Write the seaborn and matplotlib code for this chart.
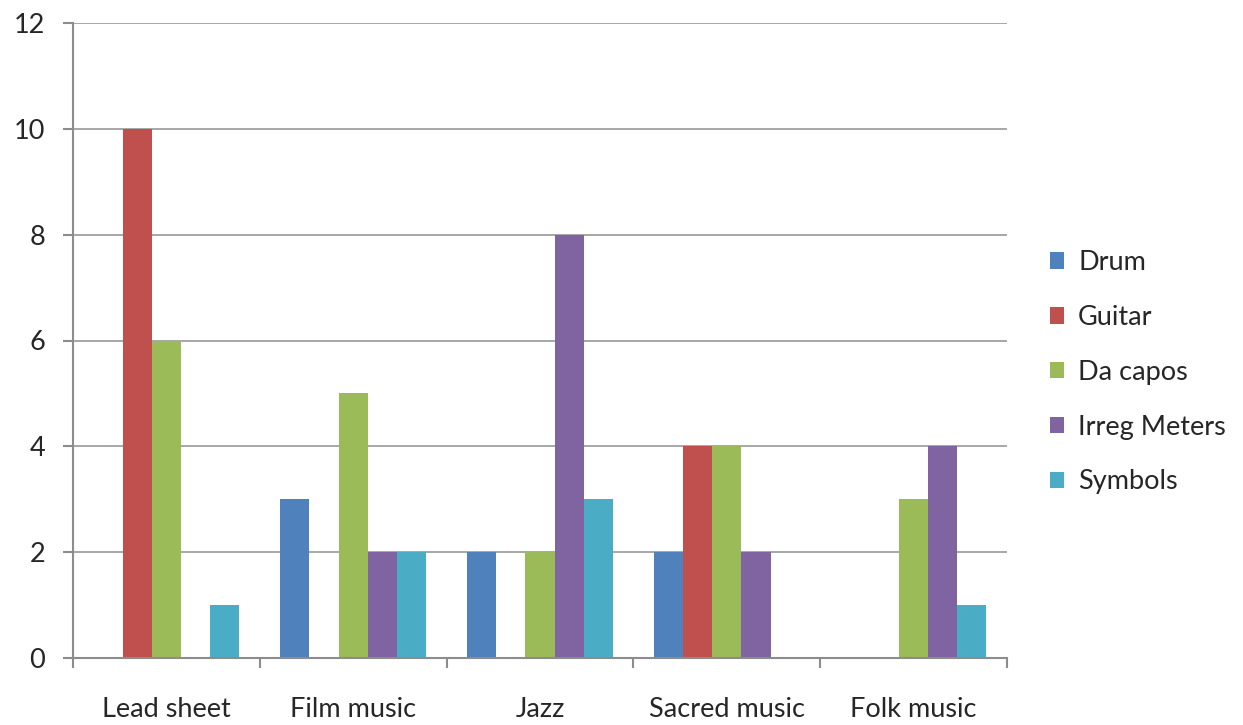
import pandas as pd
import matplotlib
matplotlib.use('Agg')
import matplotlib.pyplot as plt
import seaborn as sns

genres = ['Lead sheet', 'Film music', 'Jazz', 'Sacred music', 'Folk music']
series = ['Drum', 'Guitar', 'Da capos', 'Irreg Meters', 'Symbols']
drum = [0, 3, 2, 2, 0]
guitar = [10, 0, 0, 4, 0]
da_capos = [6, 5, 2, 4, 3]
irreg = [0, 2, 8, 2, 4]
symbols = [1, 2, 3, 0, 1]
colors = ['#4F81BD', '#C0504D', '#9BBB59', '#8064A2', '#4BACC6']

rows = []
for name, vals in zip(series, [drum, guitar, da_capos, irreg, symbols]):
    for g, v in zip(genres, vals):
        rows.append({'Genre': g, 'Series': name, 'Count': v})
df = pd.DataFrame(rows)

sns.set_style('white')
plt.rcParams['font.family'] = ['Lato', 'DejaVu Sans']

fig = plt.figure(figsize=(12.43, 7.25), dpi=100)
ax = fig.add_axes([73 / 1243, 1 - 658 / 725, 934 / 1243, 635 / 725])

sns.barplot(data=df, x='Genre', y='Count', hue='Series', palette=colors,
            width=0.78, linewidth=0, saturation=1, ax=ax, legend=True)

ax.set_ylim(0, 12)
ax.set_xlim(-0.5, 4.5)
ax.set_yticks(range(0, 13, 2))
ax.yaxis.grid(True, color='#a0a0a0', linewidth=1.3)
ax.set_axisbelow(True)
ax.set_xlabel('')
ax.set_ylabel('')

for s in ['top', 'right']:
    ax.spines[s].set_visible(False)
for s in ['left', 'bottom']:
    ax.spines[s].set_color('#8c8c8c')
    ax.spines[s].set_linewidth(1.5)

ax.set_xticks([-0.5, 0.5, 1.5, 2.5, 3.5, 4.5], minor=True)
ax.tick_params(axis='x', which='minor', length=7, width=1.5, color='#8c8c8c', direction='out', bottom=True)
ax.tick_params(axis='x', which='major', length=0, labelsize=19.5, pad=28)
ax.tick_params(axis='y', length=7, width=1.5, color='#8c8c8c', direction='out', labelsize=19.5, pad=13, left=True)

ax.legend(loc='center left', bbox_to_anchor=(1.034, 0.45), frameon=False,
          fontsize=19.5, handlelength=0.55, handleheight=0.55, handletextpad=0.5,
          labelspacing=1.1, borderaxespad=0)

fig.savefig('out.png', dpi=100)
